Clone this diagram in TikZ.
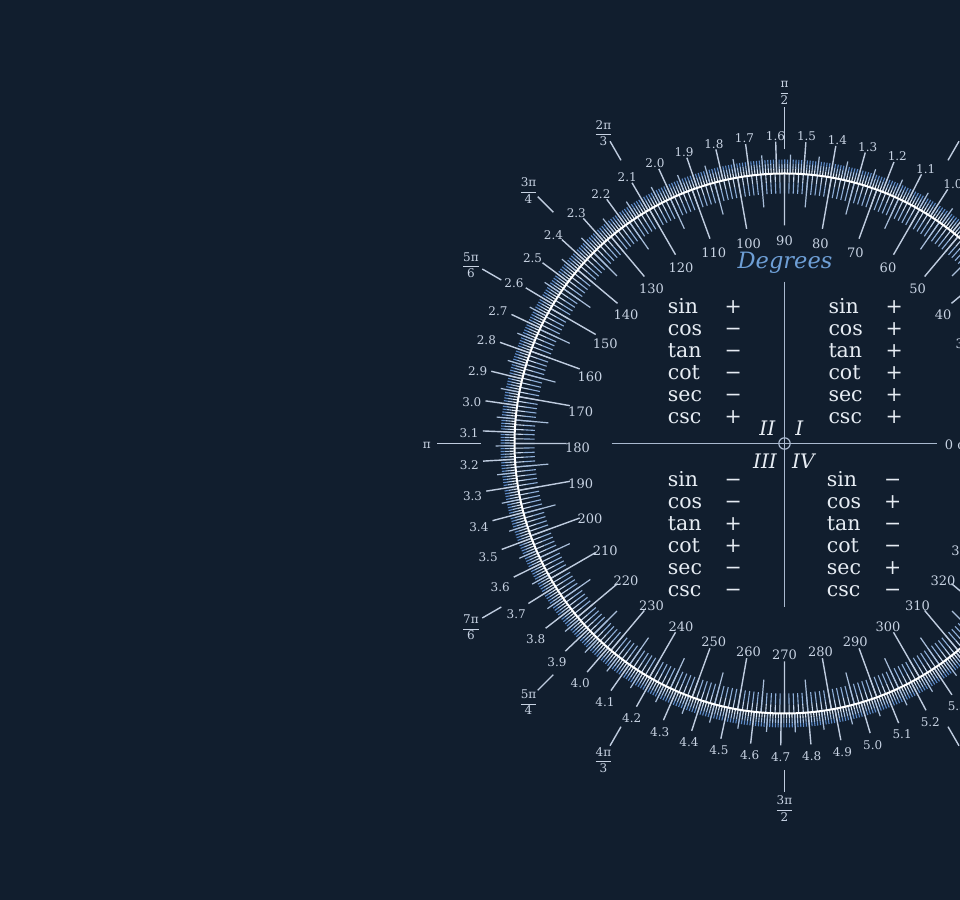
\documentclass[tikz,border=0pt]{standalone}
\usepackage{amsmath}
\usepackage{fontspec}
\setmainfont{DejaVu Serif}
\definecolor{bg}{HTML}{111E2E}
\definecolor{lab}{HTML}{C8D3E3}
\definecolor{tickL}{HTML}{BFCCDF}
\definecolor{tickM}{HTML}{A9BEDA}
\definecolor{tA}{HTML}{DCE8F6}
\definecolor{tB}{HTML}{A6C1E4}
\definecolor{tC}{HTML}{5F8CC8}
\definecolor{iA}{HTML}{C6D7EE}
\definecolor{iB}{HTML}{8DAED8}
\definecolor{axc}{HTML}{A9B9CF}
\definecolor{txt}{HTML}{E6ECF3}
\definecolor{degc}{HTML}{6E9FD6}
\tikzset{
  rlab/.style={text=lab, inner sep=1bp, font=\fontsize{12bp}{14bp}\selectfont},
  dlab/.style={text=lab, inner sep=0bp, font=\fontsize{13bp}{15bp}\selectfont},
  flab/.style={text=lab, inner sep=0bp, font=\fontsize{12bp}{14bp}\selectfont},
  longtick/.style={draw=tickL, line width=1.4bp},
  medtick/.style={draw=tickM, line width=1.2bp},
  axisline/.style={draw=axc, line width=1.3bp},
  tabtext/.style={text=txt, inner sep=0bp, anchor=base west, font=\fontsize{20.5bp}{22bp}\selectfont},
  tabsign/.style={text=txt, inner sep=0bp, anchor=base, font=\fontsize{20.5bp}{22bp}\selectfont},
  quad/.style={text=txt, inner sep=0bp, font=\fontsize{20bp}{22bp}\selectfont\itshape},
}
\begin{document}
\begin{tikzpicture}[x=1bp,y=1bp]
\useasboundingbox (0,0) rectangle (960,900);
\fill[bg] (0,0) rectangle (960,900);
\clip (0,0) rectangle (960,900);
\begin{scope}[shift={(784.5,456.5)}]
  % small radian ticks (0.01 rad), outside
  \draw[tA, line width=1.1bp] foreach \i in {0,...,628} {({\i*0.5729578}:270) -- ({\i*0.5729578}:275)};
  \draw[tB, line width=1.1bp] foreach \i in {0,...,628} {({\i*0.5729578}:275) -- ({\i*0.5729578}:280)};
  \draw[tC, line width=1.1bp] foreach \i in {0,...,628} {({\i*0.5729578}:280) -- ({\i*0.5729578}:284)};
  % small degree ticks, inside
  \draw[iA, line width=1.1bp] foreach \d in {0,...,359} {(\d:270) -- (\d:261)};
  \draw[iB, line width=1.1bp] foreach \d in {0,...,359} {(\d:261) -- (\d:250)};
  % medium ticks
  \draw[medtick] foreach \k in {0,...,62} {({\k*5.729578+2.864789}:270) -- ({\k*5.729578+2.864789}:289)};
  \draw[medtick] foreach \d in {5,15,...,355} {(\d:270) -- (\d:237)};
  % long ticks
  \draw[longtick] foreach \k in {1,...,62} {({\k*5.729578}:270) -- ({\k*5.729578}:302)};
  \draw[longtick] foreach \d in {0,10,...,350} {(\d:270) -- (\d:218)};
  % main circle
  \draw[white, line width=2bp] (0,0) circle (270);
  % radian labels (only those reaching into the visible area)
  \foreach \k in {9,...,53} {
    \pgfmathsetmacro\ang{\k*5.729578}
    \pgfmathtruncatemacro\ia{(\k+0.5)/10}
    \pgfmathtruncatemacro\ib{\k-10*\ia}
    \pgfmathsetmacro\an{mod(\ang+180,360)}
    \node[rlab, anchor=\an, yshift=-3bp] (r\k) at (\ang:305) {\ia.\ib};
  }
  % degree labels
  \foreach \d in {30,40,...,330} {
    \node[dlab, yshift=-4bp] (d\d) at (\d:207) {\d};
  }
  \node[dlab, anchor=east] (d0) at (216,-1.5) {0 or 360};
  % pi fraction ticks and labels
  \foreach \a/\nu/\de [count=\n] in {120/2π/3, 135/3π/4, 150/5π/6, 210/7π/6, 225/5π/4, 240/4π/3, 270/3π/2} {
    \draw[longtick] (\a:327) -- (\a:349);
    \node[flab, yshift=-3bp] (f\n) at (\a:362) {$\dfrac{\text{\nu}}{\text{\de}}$};
  }
  \draw[longtick] (60:327) -- (60:349);
  \draw[longtick] (300:327) -- (300:349);
  \draw[longtick] (90:294) -- (90:336);
  \node[flab] (fhalf) at (0,350.5) {$\dfrac{\text{π}}{\text{2}}$};
  \draw[longtick] (180:304) -- (180:347.5);
  \node[flab] (fpi) at (-357.8,-1.5) {π};
  % axes
  \draw[axisline] (-172.8,0) -- (152.2,0);
  \draw[axisline] (0,161.8) -- (0,-163.2);
  \draw[axc, line width=1.2bp] (0,0) circle (5.7);
  % Degrees
  \node[text=degc, inner sep=0bp, anchor=base, font=\fontsize{22.5bp}{24bp}\selectfont\itshape] (deg) at (0.5,175.2) {Degrees};
  % quadrant labels
  \node[quad] (qII) at (-17.2,15.2) {II};
  \node[quad] (qI) at (14.8,15.2) {I};
  \node[quad] (qIII) at (-19.5,-17.5) {III};
  \node[quad] (qIV) at (18.8,-17.5) {IV};
  % sign tables
  \foreach \f/\sII/\sI/\sIII/\sIV [count=\r from 0] in {sin/+/+/−/−, cos/−/+/−/+, tan/−/+/+/−, cot/−/+/+/−, sec/−/+/−/+, csc/+/+/−/−} {
    \node[tabtext] (tII\r) at (-116.8,{129.5-21.9*\r}) {\f};
    \node[tabsign] (sII\r) at (-51.2,{129.5-21.9*\r}) {\sII};
    \node[tabtext] (tI\r) at (43.8,{129.5-21.9*\r}) {\f};
    \node[tabsign] (sI\r) at (109.8,{129.5-21.9*\r}) {\sI};
    \node[tabtext] (tIII\r) at (-116.8,{-43.5-21.9*\r}) {\f};
    \node[tabsign] (sIII\r) at (-51.2,{-43.5-21.9*\r}) {\sIII};
    \node[tabtext] (tIV\r) at (42.2,{-43.5-21.9*\r}) {\f};
    \node[tabsign] (sIV\r) at (108.2,{-43.5-21.9*\r}) {\sIV};
  }
\end{scope}
\end{tikzpicture}
\end{document}
